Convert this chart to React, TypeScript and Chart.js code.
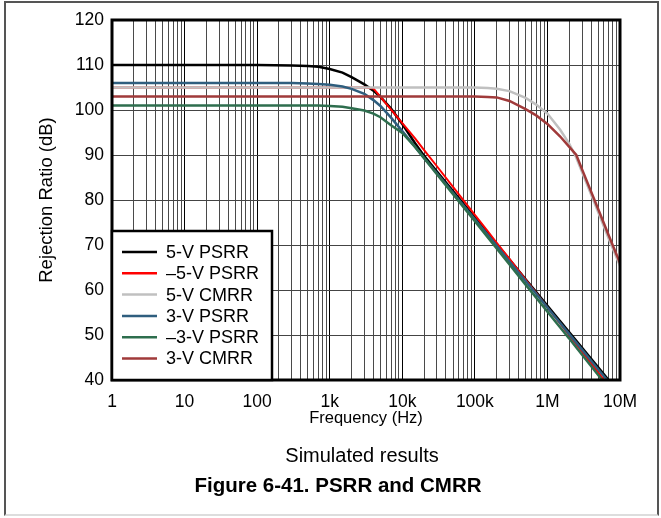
import React, { useEffect, useRef } from 'react';
import { Chart, registerables } from 'chart.js';

Chart.register(...registerables);

// Frequency points (Hz)
const FREQ = [1, 10, 100, 300, 500, 700, 1e3, 1.5e3, 2e3, 3e3, 4e3, 5e3, 7e3, 1e4, 1.5e4, 2e4, 3e4, 5e4, 1e5, 1.5e5, 2e5, 3e5, 5e5, 7e5, 1e6, 1.5e6, 2e6, 2.5e6, 3e6, 5e6, 7e6, 1e7];

// Rejection ratio (dB)
const PSRR_5V = [110, 110, 110, 109.9, 109.8, 109.6, 109.1, 108.3, 107.3, 105.7, 104.3, 102.9, 100.3, 96.9, 92.6, 89.8, 86.35, 82.0, 76.1, 72.65, 70.2, 66.75, 62.4, 59.55, 56.5, 53.05, 50.6, 48.7, 47.15, 42.8, 39.95, 36.9];
const PSRR_NEG_5V = [105, 105, 105, 105, 105, 105, 105, 105, 105, 105, 104.8, 102.9, 100.1, 97.1, 93.7, 91.1, 87.5, 82.9, 76.7, 73.1, 70.5, 66.9, 62.3, 59.3, 56.1, 52.5, 49.9, 47.9, 46.3, 41.7, 38.7, 35.5];
const CMRR_5V = [105, 105, 105, 105, 105, 105, 105, 105, 105, 105, 105, 105, 105, 105, 105, 105, 105, 105, 105, 104.9, 104.7, 104.2, 102.7, 101.2, 99.2, 95.6, 92.5, 89.4, 86.2, 77.3, 71.4, 65.4];
const PSRR_3V = [106, 106, 106, 106, 105.9, 105.8, 105.6, 105.2, 104.7, 103.6, 102.2, 100.9, 98.3, 95.3, 91.8, 89.3, 85.95, 81.6, 75.7, 72.25, 69.8, 66.35, 62.0, 59.15, 56.1, 52.65, 50.2, 48.3, 46.75, 42.4, 39.55, 36.5];
const PSRR_NEG_3V = [101, 101, 101, 101, 101, 101, 100.9, 100.7, 100.4, 99.9, 99.2, 98.4, 96.6, 94.9, 91.8, 89.3, 85.7, 81.3, 75.3, 71.75, 69.2, 65.7, 61.2, 58.3, 55.2, 51.65, 49.2, 47.2, 45.6, 41.1, 38.2, 35.1];
const CMRR_3V = [103, 103, 103, 103, 103, 103, 103, 103, 103, 103, 103, 103, 103, 103, 103, 103, 103, 103, 103, 102.9, 102.8, 102.0, 100.2, 98.8, 96.9, 94.1, 91.8, 90.0, 86.8, 78.0, 72.1, 66.0];

const SERIES_LABELS = ['5-V PSRR', '\u20135-V PSRR', '5-V CMRR', '3-V PSRR', '\u20133-V PSRR', '3-V CMRR'];
const SERIES_VALUES = [PSRR_5V, PSRR_NEG_5V, CMRR_5V, PSRR_3V, PSRR_NEG_3V, CMRR_3V];
const SERIES_COLORS = ['#000000', '#ff0000', '#c0c0c0', '#2f5e7e', '#2e6e4e', '#a03a3a'];
const SERIES_WIDTHS = [2.5, 2, 2.5, 2.5, 2.5, 2.5];
const SERIES_ORDER = [5, 4, 3, 2, 1, 0];

const X_LABELS: Record<string, string> = {
  '1': '1', '10': '10', '100': '100', '1000': '1k', '10000': '10k',
  '100000': '100k', '1000000': '1M', '10000000': '10M',
};
const Y_MIN = 40;
const Y_MAX = 120;
const Y_STEP = 10;

const FONT = "'Liberation Sans', Arial, Helvetica, sans-serif";

const framePlugin = {
  id: 'frameAndLegend',
  afterDatasetsDraw(chart: any) {
    const { ctx, chartArea } = chart;
    const { left, top, right, bottom } = chartArea;
    ctx.save();
    ctx.strokeStyle = '#000';
    ctx.lineWidth = 3;
    ctx.strokeRect(left, top, right - left, bottom - top);

    // legend box
    const w = 160;
    const h = 149;
    const bx = left;
    const by = bottom - h;
    ctx.fillStyle = '#fff';
    ctx.fillRect(bx, by, w, h);
    ctx.lineWidth = 2.5;
    ctx.strokeRect(bx, by, w, h);
    ctx.font = `18px ${FONT}`;
    ctx.textBaseline = 'middle';
    ctx.textAlign = 'left';
    chart.data.datasets.forEach((ds: any, i: number) => {
      const y = by + 21 + i * 21.3;
      ctx.strokeStyle = ds.borderColor;
      ctx.lineWidth = 2.5;
      ctx.beginPath();
      ctx.moveTo(bx + 10, y);
      ctx.lineTo(bx + 45, y);
      ctx.stroke();
      ctx.fillStyle = '#000';
      ctx.fillText(ds.label, bx + 54, y + 1);
    });
    ctx.restore();
  },
};

export default function App() {
  const ref = useRef<HTMLCanvasElement | null>(null);

  useEffect(() => {
    if (!ref.current) return;
    const datasets = SERIES_LABELS.map((label, i) => ({
      label,
      data: FREQ.map((f, j) => ({ x: f, y: SERIES_VALUES[i][j] })),
      borderColor: SERIES_COLORS[i],
      backgroundColor: SERIES_COLORS[i],
      borderWidth: SERIES_WIDTHS[i],
      pointRadius: 0,
      tension: 0,
      fill: false,
      order: SERIES_ORDER[i],
    }));

    const chart = new Chart(ref.current, {
      type: 'line',
      data: { datasets },
      plugins: [framePlugin],
      options: {
        animation: false,
        responsive: false,
        layout: { padding: { left: 0, top: 20, right: 41, bottom: 90 } },
        plugins: {
          legend: { display: false },
          tooltip: { enabled: false },
        },
        scales: {
          x: {
            type: 'logarithmic',
            min: 1,
            max: 1e7,
            afterBuildTicks: (scale: any) => {
              const t: any[] = [];
              for (let e = 0; e < 7; e++) {
                for (let m = 1; m < 10; m++) {
                  t.push({ value: m * Math.pow(10, e), major: m === 1 });
                }
              }
              t.push({ value: 1e7, major: true });
              scale.ticks = t;
            },
            afterFit: (scale: any) => {
              scale.height = 48;
            },
            ticks: {
              autoSkip: false,
              maxRotation: 0,
              minRotation: 0,
              padding: 12,
              color: '#000',
              font: { family: FONT, size: 17.5 },
              callback: (v: any) => X_LABELS[String(v)] ?? '',
            },
            grid: {
              drawTicks: false,
              lineWidth: 1,
              color: (c: any) => (c.tick && c.tick.major ? '#000' : '#4a4a4a'),
            },
            border: { display: false },
            title: {
              display: true,
              text: 'Frequency (Hz)',
              color: '#000',
              font: { family: FONT, size: 16.5 },
              padding: { top: 0, bottom: 0 },
            },
          },
          y: {
            type: 'linear',
            min: Y_MIN,
            max: Y_MAX,
            afterFit: (scale: any) => {
              scale.width = 112;
            },
            ticks: {
              stepSize: Y_STEP,
              padding: 8,
              color: '#000',
              font: { family: FONT, size: 17.5 },
            },
            grid: {
              drawTicks: false,
              lineWidth: 1,
              color: '#444',
            },
            border: { display: false },
            title: {
              display: true,
              text: 'Rejection Ratio (dB)',
              color: '#000',
              font: { family: FONT, size: 18.5 },
              padding: { top: 36, bottom: 0 },
            },
          },
        },
      },
    } as any);
    return () => chart.destroy();
  }, []);

  return (
    <div style={{ position: 'absolute', left: 0, top: 0, width: 661, height: 518, background: '#fff', overflow: 'hidden' }}>
      <div
        style={{
          position: 'absolute', left: 4, top: 1, width: 655, height: 515, boxSizing: 'border-box',
          borderLeft: '2px solid #555', borderTop: '2px solid #555', borderRight: '2px solid #555', borderBottom: '2px solid #ddd',
        }}
      />
      <canvas ref={ref} width={661} height={518} style={{ position: 'absolute', left: 0, top: 0, width: 661, height: 518 }} />
      <div
        style={{
          position: 'absolute', left: 162, width: 400, top: 443, lineHeight: '24px', textAlign: 'center',
          fontFamily: FONT, fontSize: 20, color: '#000',
        }}
      >
        Simulated results
      </div>
      <div
        style={{
          position: 'absolute', left: 138, width: 400, top: 473, lineHeight: '24px', textAlign: 'center',
          fontFamily: FONT, fontSize: 20.5, fontWeight: 'bold', color: '#000',
        }}
      >
        Figure 6-41. PSRR and CMRR
      </div>
    </div>
  );
}
